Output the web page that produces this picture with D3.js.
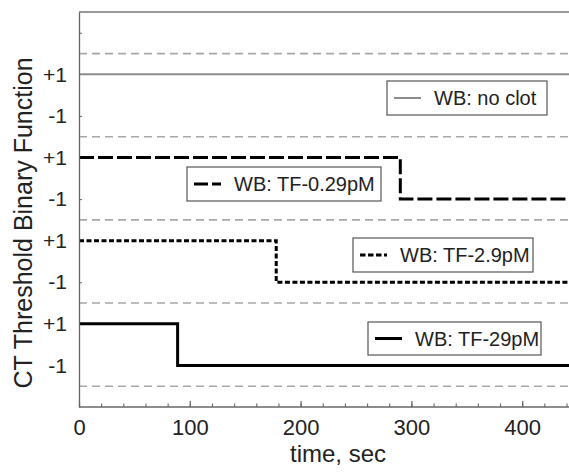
<!DOCTYPE html>
<html>
<head>
<meta charset="utf-8">
<script src="https://cdn.jsdelivr.net/npm/d3@7"></script>
<style>
  html, body { margin: 0; padding: 0; background: #fff; }
  svg { display: block; font-family: Arial, "Liberation Sans", sans-serif; }
</style>
</head>
<body>
<svg id="chart" width="569" height="473"></svg>
<script>
// ---------- data ----------
const seriesNames = ["WB: no clot", "WB: TF-0.29pM", "WB: TF-2.9pM", "WB: TF-29pM"];
const timeNoClot = [0, 450];
const valueNoClot = [1, 1];
const timeTF029 = [0, 290, 290, 450];
const valueTF029 = [1, 1, -1, -1];
const timeTF29b = [0, 178, 178, 450];
const valueTF29b = [1, 1, -1, -1];
const timeTF29 = [0, 89, 89, 450];
const valueTF29 = [1, 1, -1, -1];
const panelOffsets = [12, 8, 4, 0];
const separatorValues = [14, 10, 6, 2, -2];
const yTickLevels = [1, -1];
const yTickLabels = ["+1", "-1"];
const xTickValues = [0, 100, 200, 300, 400];
const xMinorTicks = [0, 20, 40, 60, 80, 100, 120, 140, 160, 180, 200, 220, 240, 260, 280, 300, 320, 340, 360, 380, 400, 420, 440];
const yMinorTicks = [3, 7, 11, 15];

// ---------- layout ----------
const svg = d3.select("#chart");
const padLeft = 79, padTop = 12, axisY = 407;
const x = d3.scaleLinear().domain([0, 450]).range([padLeft, padLeft + 450 * 1.108]);
const y = d3.scaleLinear().domain([-3, 16]).range([axisY, padTop]);

const series = [
  { name: seriesNames[0], t: timeNoClot, v: valueNoClot, color: "#8c8c8c", width: 2, dash: null, ldash: null,
    legend: { x: 387, y: 81, w: 160, h: 34 } },
  { name: seriesNames[1], t: timeTF029, v: valueTF029, color: "#000", width: 3, dash: "15,4", ldash: "14,4",
    legend: { x: 187, y: 167, w: 194, h: 34 } },
  { name: seriesNames[2], t: timeTF29b, v: valueTF29b, color: "#000", width: 3, dash: "5,2.5", ldash: "5.5,2.5",
    legend: { x: 353, y: 238, w: 180, h: 34 } },
  { name: seriesNames[3], t: timeTF29, v: valueTF29, color: "#000", width: 3, dash: null, ldash: null,
    legend: { x: 368, y: 322, w: 173, h: 33 } }
];

// separators
svg.append("g").selectAll("line").data(separatorValues).join("line")
  .attr("x1", x(0)).attr("x2", 569)
  .attr("y1", d => y(d)).attr("y2", d => y(d))
  .attr("stroke", "#a8a8a8").attr("stroke-width", 1.6)
  .attr("stroke-dasharray", "8,5");

// series lines
const line = d3.line().curve(d3.curveLinear);
series.forEach((s, i) => {
  const pts = s.t.map((t, k) => [x(t), y(panelOffsets[i] + s.v[k])]);
  svg.append("path").attr("d", line(pts))
    .attr("fill", "none").attr("stroke", s.color)
    .attr("stroke-width", s.width)
    .attr("stroke-dasharray", s.dash);
});

// frame top
svg.append("line").attr("x1", padLeft).attr("x2", 569).attr("y1", padTop).attr("y2", padTop)
  .attr("stroke", "#777").attr("stroke-width", 1.3);

// x axis
const xAxis = d3.axisBottom(x).tickValues(xTickValues).tickSize(-6).tickPadding(12).tickFormat(d3.format("d"));
const gx = svg.append("g").attr("transform", `translate(0,${axisY})`).call(xAxis);
gx.select(".domain").attr("stroke", "#666").attr("stroke-width", 1.3).attr("d", `M${padLeft},0H569`);
gx.selectAll(".tick line").attr("stroke", "#666").attr("stroke-width", 1.2);
gx.selectAll(".tick text").attr("font-size", 22).attr("fill", "#222")
  .attr("font-family", "Arial, 'Liberation Sans', sans-serif");
const minorX = d3.axisBottom(x).tickValues(xMinorTicks).tickSize(-3.5).tickFormat("");
const gmx = svg.append("g").attr("transform", `translate(0,${axisY})`).call(minorX);
gmx.select(".domain").remove();
gmx.selectAll(".tick line").attr("stroke", "#666").attr("stroke-width", 1.1);

// y axis
const yTicks = [];
panelOffsets.forEach(o => yTickLevels.forEach((lv, j) => yTicks.push({ v: o + lv, label: yTickLabels[j] })));
const yAxis = d3.axisLeft(y).tickValues(yTicks.map(d => d.v)).tickSize(0).tickPadding(12)
  .tickFormat((d, i) => yTicks[i].label);
const gy = svg.append("g").attr("transform", `translate(${padLeft},0)`).call(yAxis);
gy.select(".domain").attr("stroke", "#666").attr("stroke-width", 1.3);
gy.selectAll(".tick text").attr("font-size", 21).attr("fill", "#222")
  .attr("font-family", "Arial, 'Liberation Sans', sans-serif");
const minorY = d3.axisLeft(y).tickValues(yMinorTicks).tickSize(-3).tickFormat("");
const gmy = svg.append("g").attr("transform", `translate(${padLeft},0)`).call(minorY);
gmy.select(".domain").remove();
gmy.selectAll(".tick line").attr("stroke", "#666");

// axis titles
svg.append("text").attr("x", 338).attr("y", 462).attr("text-anchor", "middle")
  .attr("font-size", 24).attr("fill", "#222").text("time, sec");
svg.append("text").attr("transform", "translate(32,223) rotate(-90)").attr("text-anchor", "middle")
  .attr("font-size", 25).attr("fill", "#222").text("CT Threshold Binary Function");

// legends
series.forEach(s => {
  const L = s.legend;
  const g = svg.append("g").attr("transform", `translate(${L.x},${L.y})`);
  g.append("rect").attr("width", L.w).attr("height", L.h)
    .attr("fill", "#fff").attr("stroke", "#555").attr("stroke-width", 1.2);
  g.append("line").attr("x1", 7).attr("x2", 34).attr("y1", L.h / 2).attr("y2", L.h / 2)
    .attr("stroke", s.color).attr("stroke-width", s.width)
    .attr("stroke-dasharray", s.ldash);
  g.append("text").attr("x", 47).attr("y", L.h / 2 + 7).attr("font-size", 20)
    .attr("fill", "#222").text(s.name);
});
</script>
</body>
</html>
